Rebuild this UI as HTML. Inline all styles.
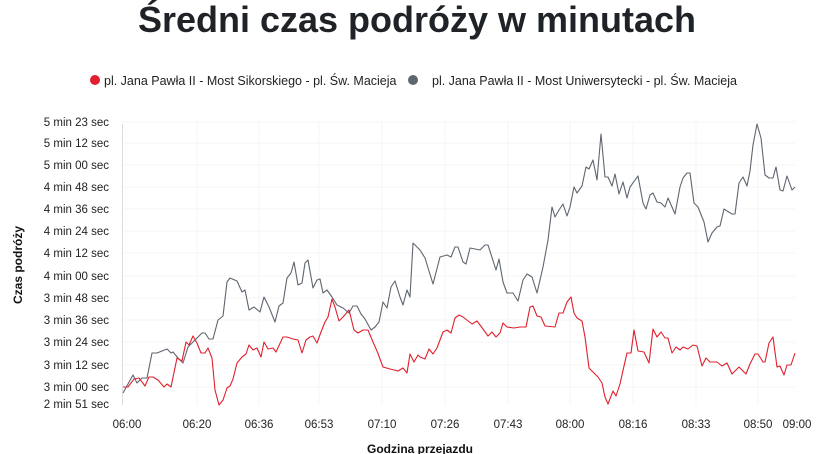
<!DOCTYPE html>
<html><head><meta charset="utf-8"><style>
html,body{margin:0;padding:0;background:#fff;width:840px;height:454px;overflow:hidden}
svg{display:block;font-family:"Liberation Sans",sans-serif}
</style></head><body>
<svg width="840" height="454" viewBox="0 0 840 454">
<text x="417" y="32" text-anchor="middle" font-size="36" font-weight="bold" fill="#1f2328">Średni czas podróży w minutach</text>
<circle cx="95" cy="80" r="5" fill="#e0202e"/>
<text x="104" y="85" font-size="12.5" fill="#222">pl. Jana Pawła II - Most Sikorskiego - pl. Św. Macieja</text>
<circle cx="413" cy="80" r="5" fill="#5f6670"/>
<text x="432" y="85" font-size="12.5" fill="#222">pl. Jana Pawła II - Most Uniwersytecki - pl. Św. Macieja</text>
<g stroke="#f4f4f4" stroke-width="1">
<line x1="122" x2="795" y1="122" y2="122"/><line x1="122" x2="795" y1="143" y2="143"/><line x1="122" x2="795" y1="165" y2="165"/><line x1="122" x2="795" y1="187" y2="187"/><line x1="122" x2="795" y1="209" y2="209"/><line x1="122" x2="795" y1="231" y2="231"/><line x1="122" x2="795" y1="253" y2="253"/><line x1="122" x2="795" y1="276" y2="276"/><line x1="122" x2="795" y1="298" y2="298"/><line x1="122" x2="795" y1="320" y2="320"/><line x1="122" x2="795" y1="342" y2="342"/><line x1="122" x2="795" y1="365" y2="365"/><line x1="122" x2="795" y1="387" y2="387"/>
<line x1="197" x2="197" y1="122" y2="405"/><line x1="259" x2="259" y1="122" y2="405"/><line x1="319" x2="319" y1="122" y2="405"/><line x1="382" x2="382" y1="122" y2="405"/><line x1="445" x2="445" y1="122" y2="405"/><line x1="508" x2="508" y1="122" y2="405"/><line x1="570" x2="570" y1="122" y2="405"/><line x1="633" x2="633" y1="122" y2="405"/><line x1="696" x2="696" y1="122" y2="405"/><line x1="758" x2="758" y1="122" y2="405"/>
</g>
<line x1="122.5" x2="122.5" y1="124" y2="405" stroke="#ddd"/>
<g font-size="11.5" fill="#222" text-anchor="end">
<text x="109" y="126">5 min 23 sec</text><text x="109" y="147">5 min 12 sec</text><text x="109" y="169">5 min 00 sec</text><text x="109" y="191">4 min 48 sec</text><text x="109" y="213">4 min 36 sec</text><text x="109" y="235">4 min 24 sec</text><text x="109" y="257">4 min 12 sec</text><text x="109" y="280">4 min 00 sec</text><text x="109" y="302">3 min 48 sec</text><text x="109" y="324">3 min 36 sec</text><text x="109" y="346">3 min 24 sec</text><text x="109" y="369">3 min 12 sec</text><text x="109" y="391">3 min 00 sec</text><text x="109" y="408">2 min 51 sec</text>
</g>
<g font-size="11.5" fill="#222" text-anchor="middle">
<text x="127" y="428">06:00</text><text x="197" y="428">06:20</text><text x="259" y="428">06:36</text><text x="319" y="428">06:53</text><text x="382" y="428">07:10</text><text x="445" y="428">07:26</text><text x="508" y="428">07:43</text><text x="570" y="428">08:00</text><text x="633" y="428">08:16</text><text x="696" y="428">08:33</text><text x="758" y="428">08:50</text><text x="797" y="428">09:00</text>
</g>
<text x="420" y="453" text-anchor="middle" font-size="12" font-weight="bold" fill="#111">Godzina przejazdu</text>
<text transform="translate(22,265) rotate(-90)" text-anchor="middle" font-size="12" font-weight="bold" fill="#111">Czas podróży</text>
<polyline fill="none" stroke="#5f6670" stroke-width="1.1" stroke-linejoin="round" points="123,393 133,375 137,383 142,378 147,378 152,353 157,353 167,349 171,353 173,352 178,358 183,363 188,347 192,343 202,333 205,333 209,339 213,339 218,320 223,316 227,282 230,278 237,281 242,292 245,290 249,310 254,307 260,312 264,297 269,307 275,322 279,306 283,303 287,278 291,273 294,262 298,285 302,283 305,263 308,260 313,288 317,280 320,279 323,293 327,290 332,297 337,305 343,308 349,313 353,306 357,306 361,314 365,319 371,330 375,327 379,322 383,302 387,308 391,287 395,281 400,297 403,305 407,290 410,297 413,243 418,248 420,250 425,258 433,284 440,257 447,255 451,257 455,247 458,247 463,262 466,264 470,248 480,250 485,245 488,245 496,270 499,259 503,282 507,293 513,293 518,301 523,280 527,274 532,277 537,293 543,267 548,240 552,207 555,217 559,210 563,204 567,216 570,207 574,187 577,193 582,186 586,167 589,169 593,160 597,180 601,134 605,177 608,177 612,186 615,174 619,194 623,182 627,198 630,187 638,176 643,203 646,209 650,195 653,193 657,202 661,203 665,207 668,198 672,207 675,214 680,187 683,178 687,173 690,173 694,203 698,207 704,222 708,242 712,233 717,227 720,226 724,209 727,211 732,214 735,214 739,183 743,177 747,186 750,171 753,145 757,124 761,138 765,175 769,178 773,178 776,167 780,190 783,191 787,176 792,190 795,187"/>
<polyline fill="none" stroke="#e0202e" stroke-width="1.1" stroke-linejoin="round" points="123,387 128,387 134,379 139,378 145,386 149,377 153,377 158,380 164,387 167,384 171,387 177,358 182,361 186,342 189,345 193,336 197,343 201,353 205,353 208,348 212,358 215,390 219,405 223,400 227,388 230,386 233,379 237,363 242,357 246,354 249,345 253,350 257,348 261,357 264,342 268,349 273,348 276,352 283,337 287,337 293,339 298,340 302,353 306,340 310,337 313,336 317,343 321,332 325,322 328,317 332,299 335,307 339,321 343,317 349,310 354,330 358,333 363,330 368,330 373,342 377,351 383,367 390,369 398,371 403,368 407,373 410,354 414,362 418,355 420,357 425,359 429,349 433,354 437,348 443,332 447,330 451,333 455,318 459,315 463,317 472,324 477,321 483,329 488,336 492,332 496,337 500,333 503,323 507,327 514,328 520,327 526,327 530,307 533,306 537,316 541,317 545,326 555,327 559,313 563,313 567,302 571,297 574,313 577,318 582,321 585,337 589,368 593,372 598,377 602,383 605,397 608,404 613,391 616,396 620,384 624,366 627,353 631,353 634,330 638,351 644,352 649,363 653,329 657,337 661,332 665,338 668,338 672,353 676,347 680,350 683,347 688,349 693,345 697,346 702,366 706,358 710,362 717,362 722,366 727,363 732,374 739,367 746,374 750,364 755,354 758,354 763,362 765,362 769,343 773,337 777,367 780,366 784,375 787,365 791,365 795,353"/>
</svg>
</body></html>
